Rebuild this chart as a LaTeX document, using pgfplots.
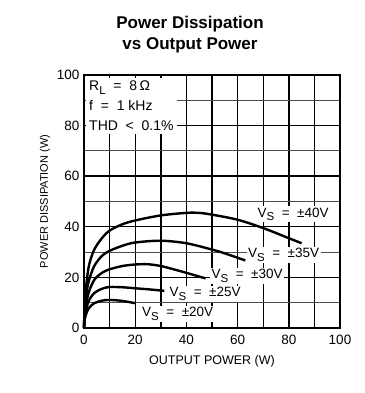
\documentclass[border=0pt]{standalone}
\usepackage{fontspec}
\setmainfont{Liberation Sans}
\usepackage{pgfplots}
\pgfplotsset{compat=1.18}
\newcommand{\sub}[1]{\raisebox{-3.5pt}{\fontsize{11.5}{12}\selectfont #1}}
\begin{document}
\begin{tikzpicture}
\useasboundingbox (-84pt,-65pt) rectangle (280pt,328pt);
\begin{axis}[
  at={(0,0)}, anchor=south west,
  scale only axis, width=256pt, height=253pt,
  xmin=0, xmax=100, ymin=0, ymax=100,
  xtick={0,10,...,100}, xticklabels={0,,20,,40,,60,,80,,100},
  ytick={0,20,...,100}, minor ytick={10,30,...,90},
  major tick length=0pt, minor tick length=0pt,
  grid=both,
  major grid style={black, line width=1.4pt},
  minor grid style={black!70, line width=0.9pt},
  axis line style={line width=1.6pt},
  tick label style={font=\fontsize{13.5}{14}\selectfont},
  /pgf/number format/assume math mode=true,
  xticklabel style={yshift=-4pt},
  yticklabel style={xshift=-1pt},
  xlabel={OUTPUT POWER (W)}, ylabel={POWER DISSIPATION (W)},
  xlabel style={font=\fontsize{12.5}{13}\selectfont, yshift=-3pt},
  ylabel style={font=\fontsize{11}{12}\selectfont, yshift=0pt},
  clip=false,
]
\addplot[black, line width=2.4pt, smooth] coordinates {(0,0) (0.3,10) (1,18) (2,25) (4,31) (7,35.5) (10,38.5) (15,41) (20,42.5) (30,44.5) (40,45.5) (45,45.5) (50,44.8) (60,42.8) (70,39.5) (80,35.5) (85,33.5)};
\addplot[black, line width=2.4pt, smooth] coordinates {(0,0) (0.3,8) (1,14) (2,19) (4,24.5) (7,28.5) (10,30.5) (15,32.5) (20,33.8) (30,34.5) (40,33.5) (50,31) (55,29.5) (63,26.7)};
\addplot[black, line width=2.4pt, smooth] coordinates {(0,0) (0.3,6) (1,10.5) (2,14.5) (4,19) (7,21.8) (10,23.2) (15,24.5) (20,25.1) (25,25.2) (30,24.5) (35,23.2) (40,21.8) (47.5,19.6)};
\addplot[black, line width=2.4pt, smooth] coordinates {(0,0) (0.3,4.5) (1,8) (2,11) (4,13.8) (7,15.5) (10,16.2) (15,16.1) (20,15.7) (25,15.3) (31.4,14.7)};
\addplot[black, line width=2.4pt, smooth] coordinates {(0,0) (0.3,3.5) (1,6) (2,8) (4,9.8) (7,10.8) (10,11.1) (15,10.7) (20,9.8)};
\tikzset{lab/.style={fill=white, inner sep=1.5pt, font=\fontsize{13.5}{14}\selectfont}}
\node[lab] at (axis cs:81.7,45) {V\sub{S} \ = \ ±40V};
\node[lab] at (axis cs:78,29) {V\sub{S} \ = \ ±35V};
\node[lab] at (axis cs:63.7,20.6) {V\sub{S} \ = \ ±30V};
\node[lab] at (axis cs:47.3,13.5) {V\sub{S} \ = \ ±25V};
\node[lab] at (axis cs:36.6,5.6) {V\sub{S} \ = \ ±20V};
\node[fill=white, anchor=north west, align=left, inner sep=3pt, font=\fontsize{14}{20}\selectfont] at ([xshift=2pt,yshift=-3pt]axis cs:0,100) {R\sub{L} \ = \ 8\,Ω\\f \ = \ 1 kHz\\THD \ < \ 0.1\%};
\node[font=\bfseries\fontsize{17}{21}\selectfont, align=center] at (106pt,293pt) {Power Dissipation\\vs Output Power};
\end{axis}
\end{tikzpicture}
\end{document}
